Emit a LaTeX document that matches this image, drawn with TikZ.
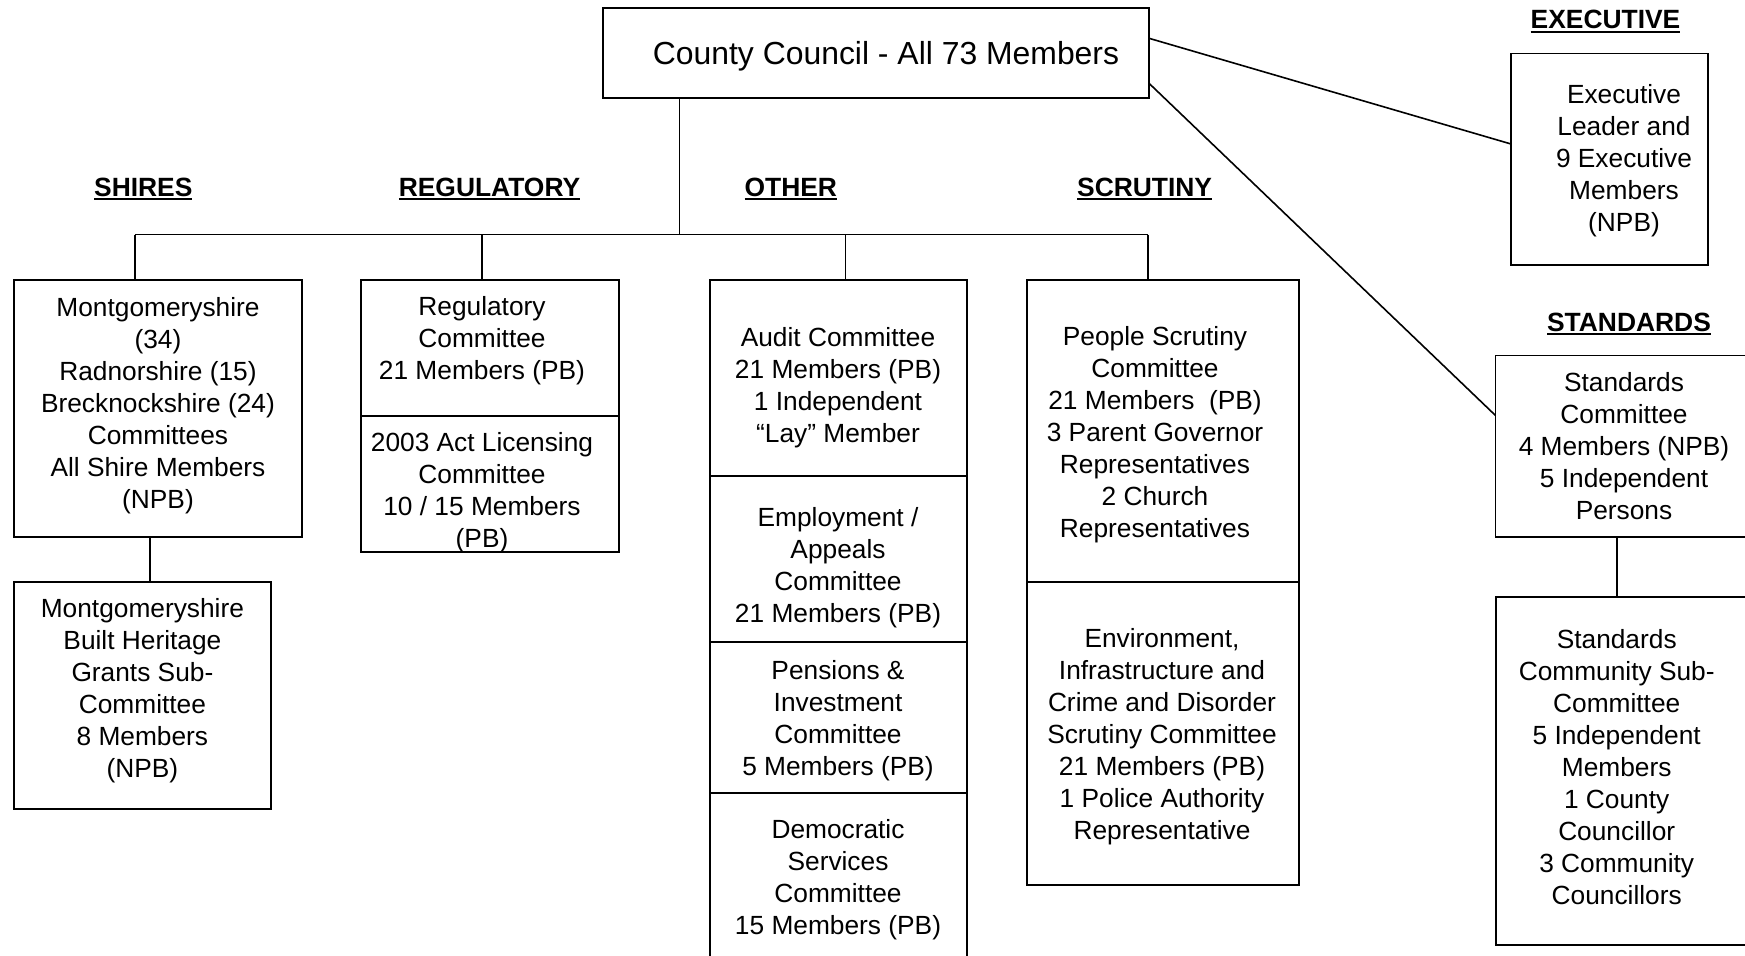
\documentclass[tikz,border=0pt]{standalone}
\usepackage{fontspec}
\setmainfont{Liberation Sans}
\usetikzlibrary{calc}

% bold heading with a heavy underline
\newcommand\headul[1]{\setbox0=\hbox{#1}\rlap{\rule[-2pt]{\wd0}{1pt}}\box0}

\tikzset{
  box/.style={draw, line width=0.85pt, inner sep=0pt, outer sep=0pt},
  txt/.style={align=center, inner sep=0pt, font=\fontsize{13.15}{16}\selectfont},
  title/.style={inner sep=0pt, font=\fontsize{15.95}{19}\selectfont},
  head/.style={inner sep=0pt, anchor=base, font=\fontsize{13.2}{16}\selectfont\bfseries},
  link/.style={line width=0.8pt},
}

\begin{document}
\begin{tikzpicture}[x=0.5pt, y=-0.5pt]
  \useasboundingbox[fill=white] (0,0) rectangle (1745,956);

  % full council
  \node[box, minimum width=273pt, minimum height=45pt] (council) at (876,53) {};
  \node[title] (council-t) at (886,56) {County Council - All 73 Members};

  % group headings
  \node[head] (hd-shires) at (143.3,196.4) {\headul{SHIRES}};
  \node[head] (hd-reg) at (489.5,196.4) {\headul{REGULATORY}};
  \node[head] (hd-other) at (790.8,196.4) {\headul{OTHER}};
  \node[head] (hd-scrut) at (1144.6,196.4) {\headul{SCRUTINY}};
  \node[head] (hd-exec) at (1605.5,28.6) {\headul{EXECUTIVE}};
  \node[head] (hd-stds) at (1629,331.4) {\headul{STANDARDS}};

  % shires
  \node[box, minimum width=144pt, minimum height=128.5pt] (shires) at (158,408.5) {};
  \node[txt] (shires-t) at (158,405.5) {Montgomeryshire\\(34)\\Radnorshire (15)\\Brecknockshire (24)\\Committees\\All Shire Members\\(NPB)};
  \node[box, minimum width=128.5pt, minimum height=113.5pt] (mbh) at (142.5,695.5) {};
  \node[txt] (mbh-t) at (142.4,690.5) {Montgomeryshire\\Built Heritage\\Grants Sub-\\Committee\\8 Members\\(NPB)};

  % regulatory
  \node[box, minimum width=129pt, minimum height=68pt] (reg) at (490,348) {};
  \node[txt] (reg-t) at (482,341) {Regulatory\\Committee\\21 Members (PB)};
  \node[box, minimum width=129pt, minimum height=68pt] (lic) at (490,484) {};
  \node[txt] (lic-t) at (482,493) {2003 Act Licensing\\Committee\\10 / 15 Members\\(PB)};

  % other
  \node[box, minimum width=128.5pt, minimum height=98pt] (audit) at (838.5,378) {};
  \node[txt] (audit-t) at (838,388) {Audit Committee\\21 Members (PB)\\1 Independent\\“Lay” Member};
  \node[box, minimum width=128.5pt, minimum height=83.2pt] (employ) at (838.5,559.2) {};
  \node[txt] (employ-t) at (838,568) {Employment /\\Appeals\\Committee\\21 Members (PB)};
  \node[box, minimum width=128.5pt, minimum height=75.5pt] (pens) at (838.5,717.8) {};
  \node[txt] (pens-t) at (838,721) {Pensions \&\\Investment\\Committee\\5 Members (PB)};
  \node[box, minimum width=128.5pt, minimum height=84.4pt] (dem) at (838.5,877.7) {};
  \node[txt] (dem-t) at (838,879.5) {Democratic\\Services\\Committee\\15 Members (PB)};

  % scrutiny
  \node[box, minimum width=135.85pt, minimum height=151.15pt] (people) at (1162.9,431.2) {};
  \node[txt] (people-t) at (1155,435) {People Scrutiny\\Committee\\21 Members\ \ (PB)\\3 Parent Governor\\Representatives\\2 Church\\Representatives};
  \node[box, minimum width=135.85pt, minimum height=151.35pt] (env) at (1162.9,733.65) {};
  \node[txt] (env-t) at (1162,737) {Environment,\\Infrastructure and\\Crime and Disorder\\Scrutiny Committee\\21 Members (PB)\\1 Police Authority\\Representative};

  % executive
  \node[box, minimum width=98.5pt, minimum height=105.7pt] (exec) at (1609.5,159.3) {};
  \node[txt] (exec-t) at (1624,161) {Executive\\Leader and\\9 Executive\\Members\\(NPB)};

  % standards
  \node[box, minimum width=128.8pt, minimum height=90.7pt] (stds) at (1624.2,446.1) {};
  \node[txt] (stds-t) at (1624,446) {Standards\\Committee\\4 Members (NPB)\\5 Independent\\Persons};
  \node[box, minimum width=132.15pt, minimum height=174.15pt] (stdsub) at (1627.85,770.85) {};
  \node[txt] (stdsub-t) at (1616.7,767) {Standards\\Community Sub-\\Committee\\5 Independent\\Members\\1 County\\Councillor\\3 Community\\Councillors};

  % tree below the council
  \coordinate (hub) at (679.5,234.6);
  \coordinate (busA) at (134.8,234.6);
  \coordinate (busB) at (482,234.6);
  \coordinate (busC) at (845.5,234.6);
  \coordinate (busD) at (1148,234.6);
  \draw[link] (council.south -| hub) -- (hub);
  \draw[link] (busA) -- (busD);
  \foreach \b/\n in {busA/shires, busB/reg, busC/audit, busD/people}
    \draw[link] (\b) -- (\b |- \n.north);

  % sub-committees
  \coordinate (shj) at ([xshift=-4pt]shires.south);
  \draw[link] (shj) -- (shj |- mbh.north);
  \coordinate (stj) at ([xshift=-3.75pt]stds.south);
  \draw[link] (stj) -- (stj |- stdsub.north);

  % council to executive and standards
  \draw[link] ([yshift=7.35pt]council.east) -- ([yshift=7.65pt]exec.west);
  \draw[link] ([yshift=-15.15pt]council.east) -- ([yshift=15.35pt]stds.west);
\end{tikzpicture}
\end{document}
